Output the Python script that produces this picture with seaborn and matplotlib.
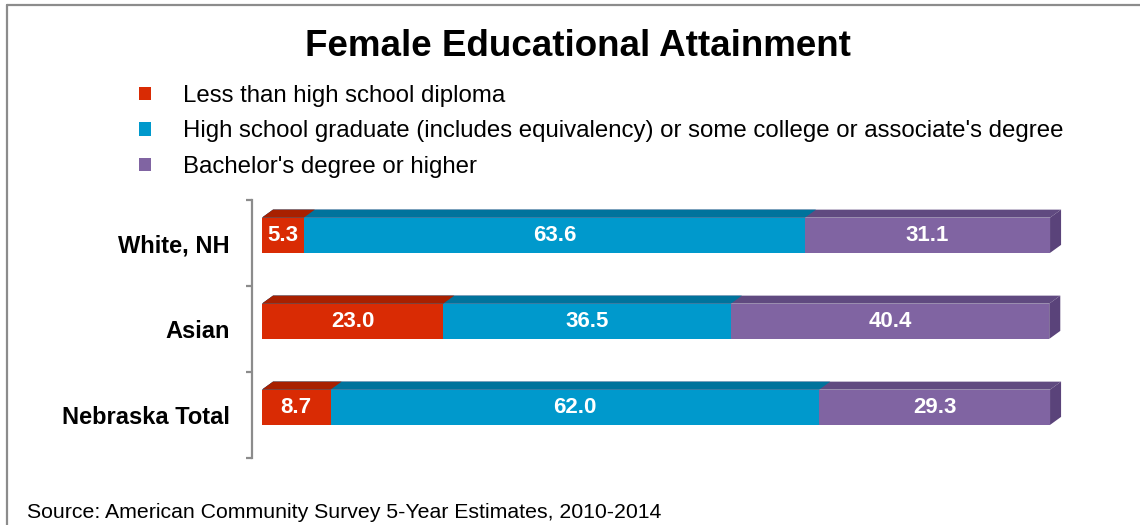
import matplotlib
matplotlib.use("Agg")
import matplotlib.pyplot as plt
from matplotlib.lines import Line2D
import seaborn as sns
import numpy as np
import pandas as pd

# data
groups = ["White, NH", "Asian", "Nebraska Total"]
less_hs = [5.3, 23.0, 8.7]
hs_some_college = [63.6, 36.5, 62.0]
bachelors = [31.1, 40.4, 29.3]
series_names = [
    "Less than high school diploma",
    "High school graduate (includes equivalency) or some college or associate's degree",
    "Bachelor's degree or higher",
]
front_colors = ["#D92B04", "#0099CC", "#8064A2"]
top_colors = ["#A82000", "#00739C", "#604A80"]
side_color = "#5A437A"

sns.set_style("white")
plt.rcParams["font.family"] = ["Liberation Sans", "DejaVu Sans"]
plt.rcParams["text.color"] = "black"
plt.rcParams["ytick.labelcolor"] = "black"

df = pd.DataFrame({"group": groups, "less": less_hs, "hs": hs_some_college, "ba": bachelors})
df["cum_hs"] = df["less"] + df["hs"]
df["cum_ba"] = df["cum_hs"] + df["ba"]

W, H = 1140, 525
fig = plt.figure(figsize=(W / 100, H / 100), dpi=100)
ax = fig.add_axes([252 / W, 1 - 458 / H, 813.8 / W, 258 / H])

bar_w = 0.41
# stacked bars drawn as overlapping cumulative totals, widest first
sns.barplot(data=df, x="cum_ba", y="group", color=front_colors[2], width=bar_w,
            saturation=1, orient="h", ax=ax, label=series_names[2])
sns.barplot(data=df, x="cum_hs", y="group", color=front_colors[1], width=bar_w,
            saturation=1, orient="h", ax=ax, label=series_names[1])
sns.barplot(data=df, x="less", y="group", color=front_colors[0], width=bar_w,
            saturation=1, orient="h", ax=ax, label=series_names[0])

ax.set_xlim(-1.27, 102)
ax.set_ylim(2.59, -0.41)

# fake 3d: top faces and right side face
dx, dy = 1.4, 0.093
bars = list(ax.patches)
n = len(groups)
for i, p in enumerate(bars):
    p.set_edgecolor("none")
    layer = i // n  # 0 purple, 1 blue, 2 red
    x0, y0, w, h = p.get_x(), p.get_y(), p.get_width(), p.get_height()
    tcol = top_colors[2 - layer]
    ax.fill([x0, x0 + dx, x0 + w + dx, x0 + w], [y0, y0 - dy, y0 - dy, y0],
            color=tcol, lw=0, zorder=p.get_zorder())
    if layer == 0:
        ax.fill([x0 + w, x0 + w + dx, x0 + w + dx, x0 + w], [y0, y0 - dy, y0 + h - dy, y0 + h],
                color=side_color, lw=0, zorder=p.get_zorder())

# value labels in the middle of each segment
for k in range(n):
    starts = [0, less_hs[k], less_hs[k] + hs_some_college[k]]
    vals = [less_hs[k], hs_some_college[k], bachelors[k]]
    for s, v in zip(starts, vals):
        ax.text(s + v / 2, k, f"{v:.1f}", ha="center", va="center", color="white",
                fontsize=16, fontweight="bold", zorder=5)

# axis styling
for side in ["top", "right", "bottom"]:
    ax.spines[side].set_visible(False)
ax.spines["left"].set_color("#8C8C8C")
ax.spines["left"].set_linewidth(1.6)
ax.set_xticks([])
ax.set_xlabel("")
ax.set_ylabel("")
ax.set_yticks([k + 0.09 for k in range(n)], groups)
ax.set_yticks([k - 0.41 for k in range(n + 1)], minor=True)
ax.tick_params(axis="y", which="major", length=0, pad=16, labelsize=17, labelcolor="black")
ax.tick_params(axis="y", which="minor", length=4.5, width=1.6, color="#8C8C8C", left=True)
for t in ax.get_yticklabels():
    t.set_fontweight("bold")

handles, labels = ax.get_legend_handles_labels()
leg = ax.legend(handles[::-1], labels[::-1], loc="upper left",
                bbox_to_anchor=(139 / W, 1 - 85 / H), bbox_transform=fig.transFigure,
                frameon=False, fontsize=17.3, handlelength=0.5, handleheight=0.5,
                handletextpad=1.33, labelspacing=0.56, borderpad=0, borderaxespad=0)
for t in leg.get_texts():
    t.set_color("black")

fig.text(578 / W, 1 - 46 / H, "Female Educational Attainment", ha="center", va="center",
         fontsize=26.5, fontweight="bold", color="black")
fig.text(27 / W, 1 - 513 / H, "Source: American Community Survey 5-Year Estimates, 2010-2014",
         ha="left", va="center", fontsize=15.3, color="black")

# outer frame lines (left and top)
fig.add_artist(Line2D([7 / W, 7 / W], [0, 1 - 5 / H], color="#8C8C8C", lw=1.6,
                      transform=fig.transFigure))
fig.add_artist(Line2D([7 / W, 1], [1 - 5 / H, 1 - 5 / H], color="#8C8C8C", lw=1.6,
                      transform=fig.transFigure))

fig.savefig("out.png", dpi=100)
